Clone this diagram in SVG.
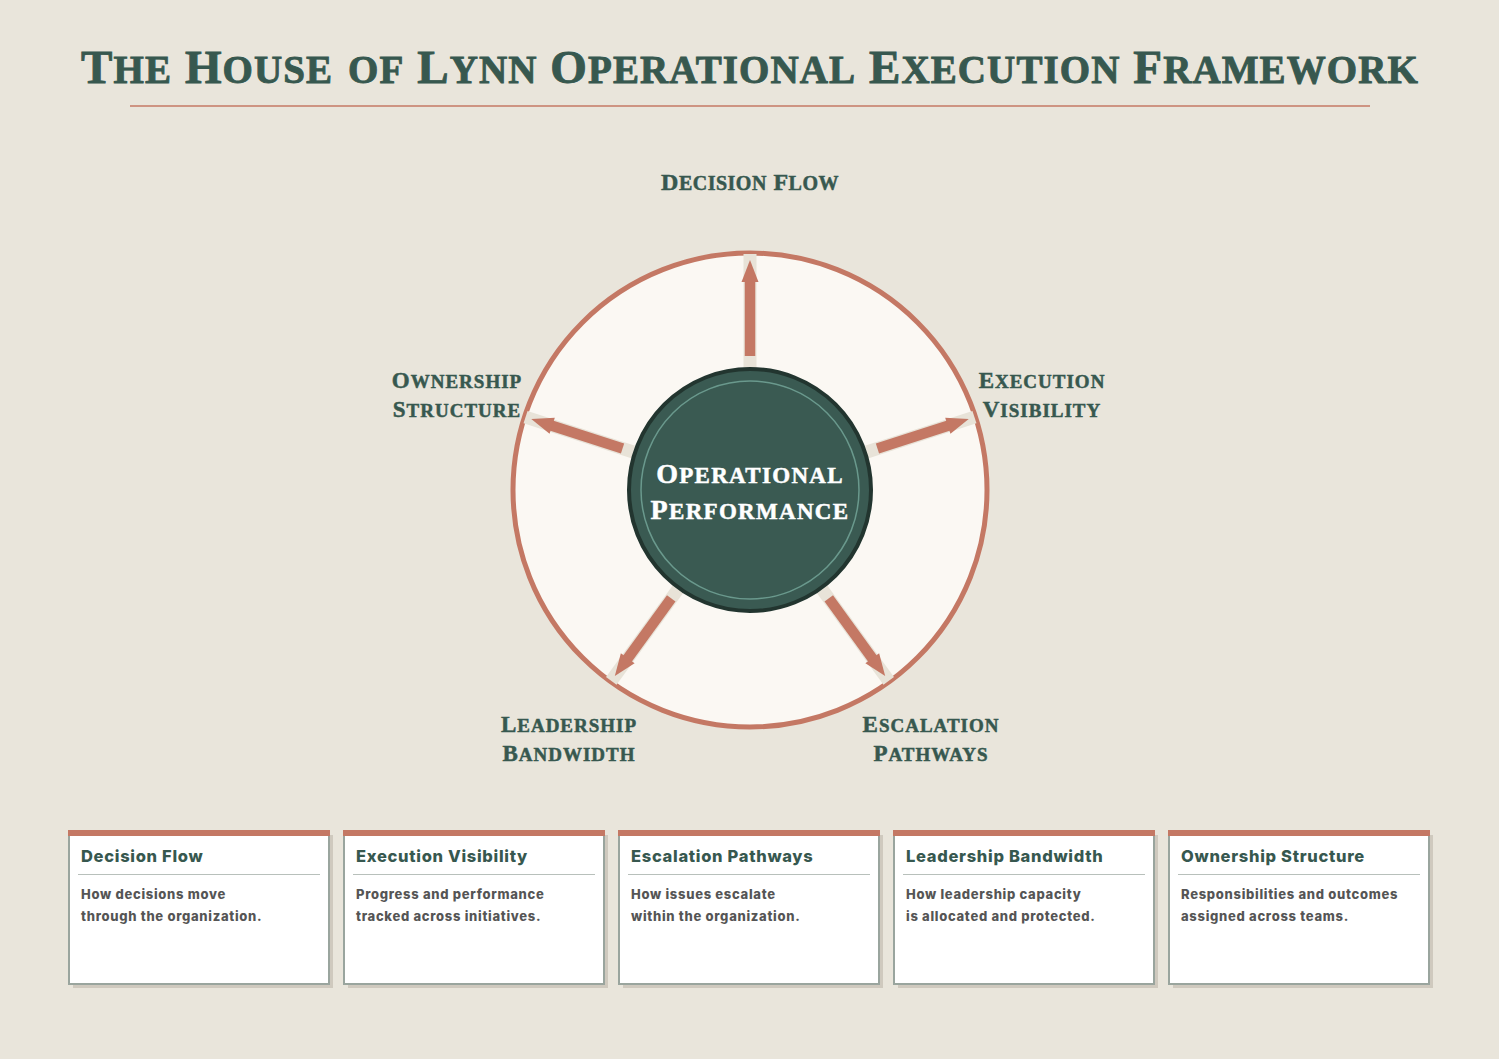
<svg xmlns="http://www.w3.org/2000/svg" width="1499" height="1059" viewBox="0 0 1499 1059">
<style>
.title{font-family:"Liberation Serif",serif;font-weight:700;font-variant:small-caps;fill:#37584f;stroke:#37584f;stroke-width:0.9;font-size:47px;letter-spacing:1.1px}
.title .s{font-size:55px}
.lbl{font-family:"Liberation Serif",serif;font-weight:700;font-variant:small-caps;fill:#37584f;stroke:#37584f;stroke-width:0.5;font-size:23px;letter-spacing:1px;text-anchor:middle}
.lbl .s{font-size:27px}
.lbl.big{font-size:24px;letter-spacing:0.5px}
.lbl.big .s{font-size:28.2px}
.ctr{font-family:"Liberation Serif",serif;font-weight:700;font-variant:small-caps;fill:#ffffff;stroke:#ffffff;stroke-width:0.5;font-size:28px;letter-spacing:1.3px;text-anchor:middle}
.ctr .s{font-size:32.8px}
.band{fill:#e8e3d8}
.arr{fill:#c47864}
.shadow{fill:#cfc9be}
.card{fill:#ffffff;stroke:#9aa59e;stroke-width:2}
.bar{fill:#c47864}
.div{stroke:#b8c0bb;stroke-width:1}
.ct{font-family:Inter,"Liberation Sans",sans-serif;font-weight:800;fill:#37584f;font-size:16.5px;letter-spacing:0.7px}
.cd{font-family:Inter,"Liberation Sans",sans-serif;font-weight:800;fill:#555555;font-size:13px;letter-spacing:0.7px}
</style>
<defs>
<g id="arrowShape">
<rect class="band" x="-6.5" y="-236" width="13" height="114"/>
<rect class="arr" x="-5.25" y="-209" width="10.5" height="75"/>
<polygon class="arr" points="-8.5,-208 8.5,-208 0,-230"/>
</g>
</defs>
<rect x="0" y="0" width="1499" height="1059" fill="#e9e5db"/>
<g id="title">
<text class="title" x="750" y="83" text-anchor="middle">T<tspan class="s">he</tspan> H<tspan class="s">ouse of</tspan> L<tspan class="s">ynn</tspan> O<tspan class="s">perational</tspan> E<tspan class="s">xecution</tspan> F<tspan class="s">ramework</tspan></text>
<line x1="130" y1="106" x2="1370" y2="106" stroke="#c47864" stroke-width="1.5"/>
</g>
<g id="ring">
<circle cx="750" cy="490" r="237" fill="#fbf8f3" stroke="#c47864" stroke-width="5"/>
</g>
<g id="connectors">
<use href="#arrowShape" transform="translate(750,490) rotate(0)"/>
<use href="#arrowShape" transform="translate(750,490) rotate(72)"/>
<use href="#arrowShape" transform="translate(750,490) rotate(144)"/>
<use href="#arrowShape" transform="translate(750,490) rotate(216)"/>
<use href="#arrowShape" transform="translate(750,490) rotate(288)"/>
</g>
<g id="center">
<circle cx="750" cy="490" r="121" fill="#3a5a52" stroke="#22352f" stroke-width="4"/>
<circle cx="750" cy="490" r="109" fill="none" stroke="#6a998d" stroke-width="1.5"/>
<text class="ctr" x="750" y="483">O<tspan class="s">perational</tspan></text>
<text class="ctr" x="750" y="519">P<tspan class="s">erformance</tspan></text>
</g>
<g id="label-decision-flow">
<text class="lbl big" x="750" y="190">D<tspan class="s">ecision</tspan> F<tspan class="s">low</tspan></text>
</g>
<g id="label-execution-visibility">
<text class="lbl" x="1042" y="388">E<tspan class="s">xecution</tspan></text>
<text class="lbl" x="1042" y="417">V<tspan class="s">isibility</tspan></text>
</g>
<g id="label-escalation-pathways">
<text class="lbl" x="931" y="732">E<tspan class="s">scalation</tspan></text>
<text class="lbl" x="931" y="761">P<tspan class="s">athways</tspan></text>
</g>
<g id="label-leadership-bandwidth">
<text class="lbl" x="569" y="732">L<tspan class="s">eadership</tspan></text>
<text class="lbl" x="569" y="761">B<tspan class="s">andwidth</tspan></text>
</g>
<g id="label-ownership-structure">
<text class="lbl" x="457" y="388">O<tspan class="s">wnership</tspan></text>
<text class="lbl" x="457" y="417">S<tspan class="s">tructure</tspan></text>
</g>
<g id="card-decision-flow">
<rect class="shadow" x="73" y="835" width="260" height="153"/>
<rect class="card" x="69" y="831" width="260" height="153"/>
<rect class="bar" x="68" y="830" width="262" height="6"/>
<text class="ct" x="81" y="862">Decision Flow</text>
<line class="div" x1="78" y1="874.5" x2="320" y2="874.5"/>
<text class="cd" x="81" y="899">How decisions move</text>
<text class="cd" x="81" y="921">through the organization.</text>
</g>
<g id="card-execution-visibility">
<rect class="shadow" x="348" y="835" width="260" height="153"/>
<rect class="card" x="344" y="831" width="260" height="153"/>
<rect class="bar" x="343" y="830" width="262" height="6"/>
<text class="ct" x="356" y="862">Execution Visibility</text>
<line class="div" x1="353" y1="874.5" x2="595" y2="874.5"/>
<text class="cd" x="356" y="899">Progress and performance</text>
<text class="cd" x="356" y="921">tracked across initiatives.</text>
</g>
<g id="card-escalation-pathways">
<rect class="shadow" x="623" y="835" width="260" height="153"/>
<rect class="card" x="619" y="831" width="260" height="153"/>
<rect class="bar" x="618" y="830" width="262" height="6"/>
<text class="ct" x="631" y="862">Escalation Pathways</text>
<line class="div" x1="628" y1="874.5" x2="870" y2="874.5"/>
<text class="cd" x="631" y="899">How issues escalate</text>
<text class="cd" x="631" y="921">within the organization.</text>
</g>
<g id="card-leadership-bandwidth">
<rect class="shadow" x="898" y="835" width="260" height="153"/>
<rect class="card" x="894" y="831" width="260" height="153"/>
<rect class="bar" x="893" y="830" width="262" height="6"/>
<text class="ct" x="906" y="862">Leadership Bandwidth</text>
<line class="div" x1="903" y1="874.5" x2="1145" y2="874.5"/>
<text class="cd" x="906" y="899">How leadership capacity</text>
<text class="cd" x="906" y="921">is allocated and protected.</text>
</g>
<g id="card-ownership-structure">
<rect class="shadow" x="1173" y="835" width="260" height="153"/>
<rect class="card" x="1169" y="831" width="260" height="153"/>
<rect class="bar" x="1168" y="830" width="262" height="6"/>
<text class="ct" x="1181" y="862">Ownership Structure</text>
<line class="div" x1="1178" y1="874.5" x2="1420" y2="874.5"/>
<text class="cd" x="1181" y="899">Responsibilities and outcomes</text>
<text class="cd" x="1181" y="921">assigned across teams.</text>
</g>
</svg>
